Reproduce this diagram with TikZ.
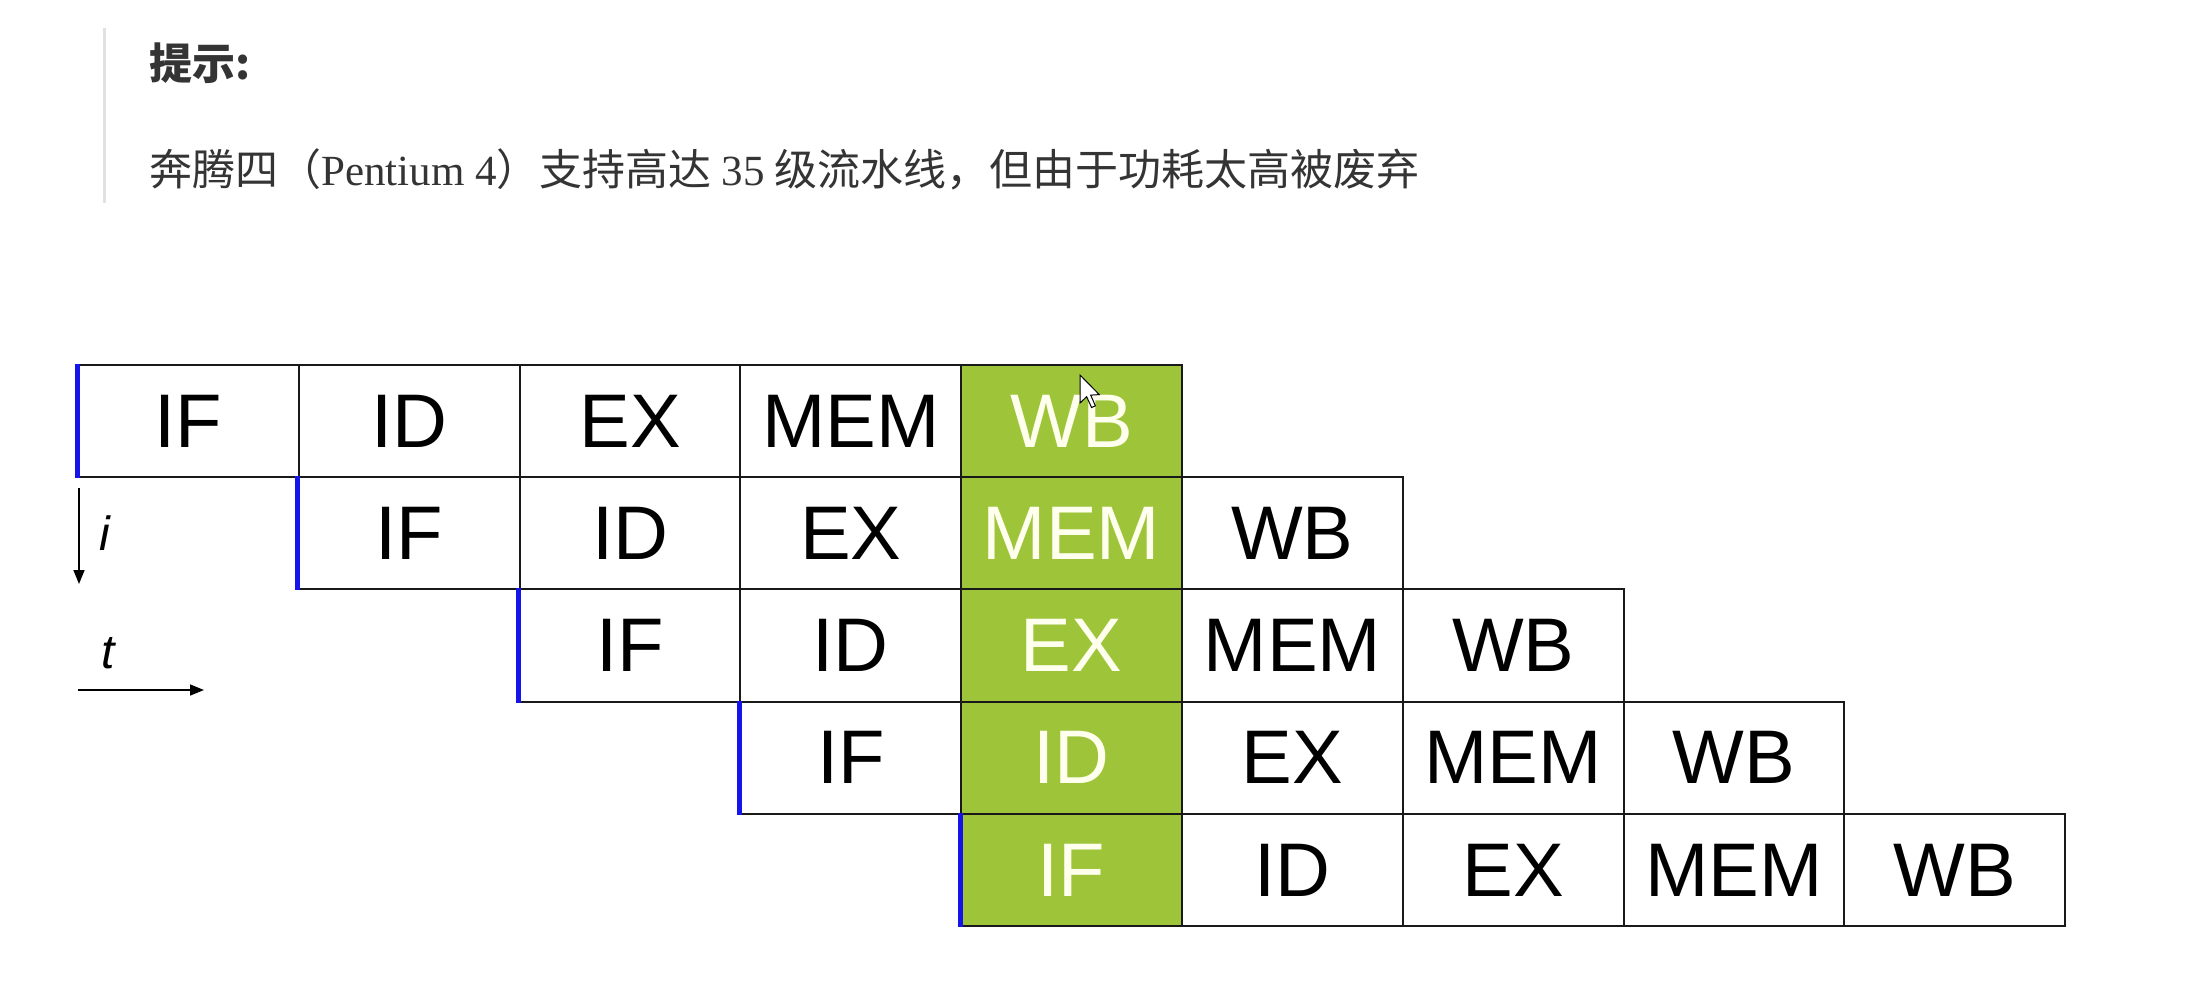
\documentclass[tikz,border=0pt]{standalone}
\usepackage{fontspec}
\setmainfont{Liberation Sans}
\newfontfamily\cjk{Noto Sans CJK SC}
\newfontfamily\serifen{Liberation Serif}
\usetikzlibrary{arrows.meta}
\definecolor{cellgreen}{RGB}{158,196,58}
\definecolor{greentext}{RGB}{255,255,238}
\definecolor{bodytext}{RGB}{52,52,52}
\definecolor{quotebar}{RGB}{225,225,225}
\definecolor{startblue}{RGB}{20,20,235}
\tikzset{
  cell/.style={draw=black!90, line width=2pt, minimum width=220.8pt, minimum height=112.2pt,
    inner sep=0pt, font=\fontsize{76}{80}\selectfont, text=black},
  greencell/.style={cell, fill=cellgreen, text=greentext},
  startbar/.style={draw=startblue, line width=5pt},
  axisarrow/.style={draw=black, line width=1.6pt, -{Triangle[length=14pt,width=11pt]}},
  axislabel/.style={font=\fontsize{48}{50}\selectfont\itshape, inner sep=0pt},
  hinttext/.style={text=bodytext, inner sep=0pt, anchor=base west, font=\fontsize{43}{46}\selectfont}
}
\begin{document}
\begin{tikzpicture}[x=1pt,y=-1pt]
\useasboundingbox[fill=white] (0,0) rectangle (2186,998);
% quote bar
\draw[quotebar, line width=3pt] (104,28) -- (104,203);
\node[hinttext] (title) at (149,79) {\cjk\bfseries 提示:};
\node[hinttext] (hint) at (149,185) {{\cjk 奔腾四（}{\serifen Pentium 4}{\cjk ）支持高达}\hspace{10pt}{\serifen 35}\hspace{10pt}{\cjk 级流水线，但由于功耗太高被废弃}};
% pipeline cells
\foreach \r in {0,...,4} {
  \foreach [count=\k from 0] \s in {IF,ID,EX,MEM,WB} {
    \pgfmathtruncatemacro\c{\r+\k}
    \ifnum\c=4 \def\sty{greencell}\else\def\sty{cell}\fi
    \node[\sty] (c-\r-\k) at ({78+(\c+0.5)*220.8},{365+(\r+0.5)*112.2}) {\s};
  }
}
\foreach \r in {0,...,4} {
  \draw[startbar] (c-\r-0.north west) -- (c-\r-0.south west);
}
% axes
\coordinate (ia) at (79,488);
\coordinate (ib) at (79,584);
\draw[axisarrow] (ia) -- (ib);
\node[axislabel] (ilabel) at (105,533) {i};
\coordinate (ta) at (78,690);
\coordinate (tb) at (204,690);
\draw[axisarrow] (ta) -- (tb);
\node[axislabel] (tlabel) at (108,653) {t};
% mouse cursor
\begin{scope}[shift={(1080,375)}, scale=1.75]
\draw[fill=white, draw=black, line width=1pt, line join=miter]
  (0,0) -- (0,16) -- (3.8,12.4) -- (6.6,18.6) -- (8.8,17.6) -- (6.1,11.5) -- (11,11.2) -- cycle;
\end{scope}
\end{tikzpicture}
\end{document}
